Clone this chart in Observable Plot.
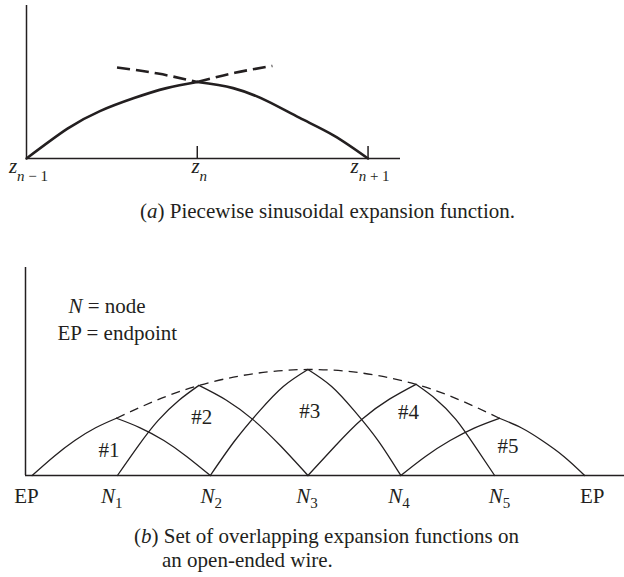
<!DOCTYPE html>
<html>
<head>
<meta charset="utf-8">
<script src="https://cdn.jsdelivr.net/npm/d3@7"></script>
<script src="https://cdn.jsdelivr.net/npm/@observablehq/plot@0.6"></script>
<style>
  html, body { margin: 0; padding: 0; background: #fff; }
  #fig { position: relative; width: 624px; height: 577px; overflow: hidden;
         font-family: "Liberation Serif", "Times New Roman", serif; color: #231f20; }
  .panel { position: absolute; left: 0; }
  .cap { position: absolute; font-size: 21px; line-height: 24px; white-space: nowrap; }
</style>
</head>
<body>
<div id="fig"></div>
<script>
// ---------------- Panel (a): piecewise sinusoidal expansion function ----------------
// z in segment units (z_{n-1}=0, z_n=1, z_{n+1}=2); height relative to value at z_n
const aLeftZ  = [0, 0.24, 0.43, 0.63, 0.82, 1.0];
const aLeftH  = [0, 0.39, 0.62, 0.79, 0.92, 1.0];
const aRightZ = [1.0, 1.21, 1.41, 1.60, 1.80, 2.0];
const aRightH = [1.0, 0.92, 0.75, 0.53, 0.30, 0];
const aDashLeftZ  = [0.53, 0.77, 1.0];
const aDashLeftH  = [1.19, 1.11, 1.0];
const aDashRightZ = [1.0, 1.22, 1.44];
const aDashRightH = [1.0, 1.12, 1.21];
const aTickAt   = [0, 1, 2];
const aTickMain = ["z", "z", "z"];
const aTickSub  = ["n − 1", "n", "n + 1"];

// ---------------- Panel (b): overlapping expansion functions ----------------
// x along the wire (node spacing ≈ 1), height relative to the tallest function (#3)
const fnNames = ["#1", "#2", "#3", "#4", "#5"];
const fn1X = [0.07, 0.30, 0.52, 0.74, 0.96, 1.21, 1.46, 1.70, 1.95];
const fn1H = [0, 0.18, 0.33, 0.45, 0.54, 0.45, 0.33, 0.18, 0];
const fn2X = [0.97, 1.19, 1.40, 1.62, 1.83, 2.12, 2.41, 2.69, 2.98];
const fn2H = [0, 0.28, 0.52, 0.71, 0.85, 0.71, 0.52, 0.28, 0];
const fn3X = [1.95, 2.21, 2.47, 2.72, 2.98, 3.23, 3.47, 3.72, 3.96];
const fn3H = [0, 0.33, 0.61, 0.84, 1.0, 0.84, 0.61, 0.33, 0];
const fn4X = [2.98, 3.27, 3.55, 3.84, 4.12, 4.33, 4.54, 4.74, 4.95];
const fn4H = [0, 0.28, 0.53, 0.72, 0.86, 0.72, 0.53, 0.28, 0];
const fn5X = [3.96, 4.22, 4.48, 4.74, 5.00, 5.23, 5.45, 5.68, 5.90];
const fn5H = [0, 0.18, 0.33, 0.45, 0.54, 0.45, 0.33, 0.18, 0];
const envelopeX = [0.96, 1.83, 2.98, 4.12, 5.00];
const envelopeH = [0.54, 0.85, 1.0, 0.86, 0.54];
const fnLabelX = [0.88, 1.86, 3.00, 4.04, 5.09];
const fnLabelH = [0.17, 0.49, 0.54, 0.53, 0.21];
const nodeLabelAt = [0.01, 0.91, 1.96, 2.97, 3.94, 5.00, 5.98];
const nodeMain = ["EP", "N", "N", "N", "N", "N", "EP"];
const nodeSub  = ["", "1", "2", "3", "4", "5", ""];
const legendLines = [["N", " = node"], ["", "EP = endpoint"]];

const capA = ["a", " Piecewise sinusoidal expansion function."];
const capB = ["b", " Set of overlapping expansion functions on", "an open-ended wire."];

// ---------------- helpers ----------------
const INK = "#231f20";
const FONT = "'Liberation Serif', 'Times New Roman', serif";
const rich = new Map();

function subRuns(s) {
  return (s.match(/[A-Za-z]+|[^A-Za-z]+/g) || []).map(t => ({t, i: /[A-Za-z]/.test(t), sub: true}));
}
function richify(svg, subSize, subShift) {
  d3.select(svg).selectAll("text").each(function () {
    const runs = rich.get(this.textContent);
    if (!runs) return;
    const el = d3.select(this);
    el.text(null);
    let inSub = false;
    for (const r of runs) {
      const ts = el.append("tspan").text(r.t);
      if (r.i) ts.attr("font-style", "italic");
      if (r.sub) {
        ts.attr("font-size", subSize);
        if (!inSub) { ts.attr("dy", subShift); inSub = true; }
      }
    }
  });
}

// ---------------- build panel (a) ----------------
const aSolid = [
  ...aLeftZ.map((z, i) => ({z, h: aLeftH[i], side: "L"})),
  ...aRightZ.map((z, i) => ({z, h: aRightH[i], side: "R"}))
];
const aDashed = [
  ...aDashLeftZ.map((z, i) => ({z, h: aDashLeftH[i], side: "L"})),
  ...aDashRightZ.map((z, i) => ({z, h: aDashRightH[i], side: "R"}))
];
const aTicks = aTickAt.map((at, i) => {
  const key = aTickMain[i] + aTickSub[i];
  rich.set(key, [{t: aTickMain[i], i: true}, ...subRuns(aTickSub[i])]);
  return {at, key};
});

const plotA = Plot.plot({
  width: 624, height: 195,
  marginLeft: 26, marginRight: 224, marginTop: 5, marginBottom: 37,
  x: {domain: [0, 2.19], axis: null},
  y: {domain: [0, 2], axis: null},
  style: {fontFamily: FONT, color: INK, background: "transparent", overflow: "visible"},
  marks: [
    Plot.ruleY([0], {stroke: INK, strokeWidth: 1.5}),
    Plot.ruleX([0], {stroke: INK, strokeWidth: 1.5}),
    Plot.ruleX(aTickAt.filter(d => d > 0), {y1: 0, y2: 0.157, stroke: INK, strokeWidth: 1.5}),
    Plot.line(aSolid, {x: "z", y: "h", z: "side", curve: "natural", stroke: INK, strokeWidth: 2.6}),
    Plot.line(aDashed, {x: "z", y: "h", z: "side", curve: "natural", stroke: INK, strokeWidth: 2.6,
                        strokeDasharray: "13,6", strokeLinecap: "butt"}),
    Plot.text(aTicks, {x: "at", y: () => 0, text: "key", fontSize: 21, textAnchor: "middle",
                       lineAnchor: "bottom", dy: 14, dx: 2, fill: INK})
  ]
});
richify(plotA, 15, 8);

// ---------------- build panel (b) ----------------
const fnX = [fn1X, fn2X, fn3X, fn4X, fn5X];
const fnH = [fn1H, fn2H, fn3H, fn4H, fn5H];
const bSolid = [];
fnNames.forEach((name, k) => {
  fnX[k].forEach((x, i) => {
    if (i <= 4) bSolid.push({x, h: fnH[k][i], key: name + "L"});
    if (i >= 4) bSolid.push({x, h: fnH[k][i], key: name + "R"});
  });
});
const envelope = envelopeX.map((x, i) => ({x, h: envelopeH[i]}));
const fnLabels = fnNames.map((name, i) => ({name, x: fnLabelX[i], h: fnLabelH[i]}));
const nodeLabels = nodeLabelAt.map((at, i) => {
  const key = nodeMain[i] + nodeSub[i];
  if (nodeSub[i]) rich.set(key, [{t: nodeMain[i], i: true}, ...subRuns(nodeSub[i]).map(r => ({...r, i: false}))]);
  return {at, key};
});
const legendKeys = legendLines.map(([it, rest]) => {
  const key = it + rest;
  if (it) rich.set(key, [{t: it, i: true}, {t: rest}]);
  return key;
});

const plotB = Plot.plot({
  width: 624, height: 265,
  marginLeft: 25, marginRight: 0, marginTop: 12, marginBottom: 45,
  x: {domain: [0, 6.32], axis: null},
  y: {domain: [0, 1.962], axis: null},
  style: {fontFamily: FONT, color: INK, background: "transparent", overflow: "visible"},
  marks: [
    Plot.ruleY([0], {stroke: INK, strokeWidth: 1.5}),
    Plot.ruleX([0], {stroke: INK, strokeWidth: 1.5}),
    Plot.line(bSolid, {x: "x", y: "h", z: "key", curve: "natural", stroke: INK, strokeWidth: 1.3}),
    Plot.line(envelope, {x: "x", y: "h", curve: "natural", stroke: INK, strokeWidth: 1.3,
                         strokeDasharray: "9,6", strokeLinecap: "butt"}),
    Plot.text(fnLabels, {x: "x", y: "h", text: "name", fontSize: 21, textAnchor: "middle",
                         lineAnchor: "bottom", fill: INK}),
    Plot.text(nodeLabels, {x: "at", y: () => 0, text: "key", fontSize: 21, textAnchor: "middle",
                           lineAnchor: "bottom", dy: 27, fill: INK}),
    Plot.text([legendKeys[0]], {frameAnchor: "top-left", text: d => d, dx: 43, dy: 45,
                                textAnchor: "start", lineAnchor: "bottom", fontSize: 21, fill: INK}),
    Plot.text([legendKeys[1]], {frameAnchor: "top-left", text: d => d, dx: 32, dy: 72,
                                textAnchor: "start", lineAnchor: "bottom", fontSize: 21, fill: INK})
  ]
});
richify(plotB, 15, 5);

// ---------------- assemble ----------------
const fig = document.getElementById("fig");
const wa = document.createElement("div"); wa.className = "panel"; wa.style.top = "0px"; wa.appendChild(plotA);
const wb = document.createElement("div"); wb.className = "panel"; wb.style.top = "255px"; wb.appendChild(plotB);
fig.appendChild(wa); fig.appendChild(wb);

function caption(parts, left, top, indent) {
  const d = document.createElement("div");
  d.className = "cap";
  d.style.left = left + "px"; d.style.top = top + "px";
  d.append("(");
  const it = document.createElement("i"); it.textContent = parts[0]; d.append(it);
  d.append(")" + parts[1]);
  if (parts[2]) {
    d.append(document.createElement("br"));
    const s = document.createElement("span");
    s.style.paddingLeft = indent + "px"; s.textContent = parts[2];
    d.append(s);
  }
  fig.appendChild(d);
}
caption(capA, 140, 199, 0);
caption(capB, 134, 524, 28);
</script>
</body>
</html>
